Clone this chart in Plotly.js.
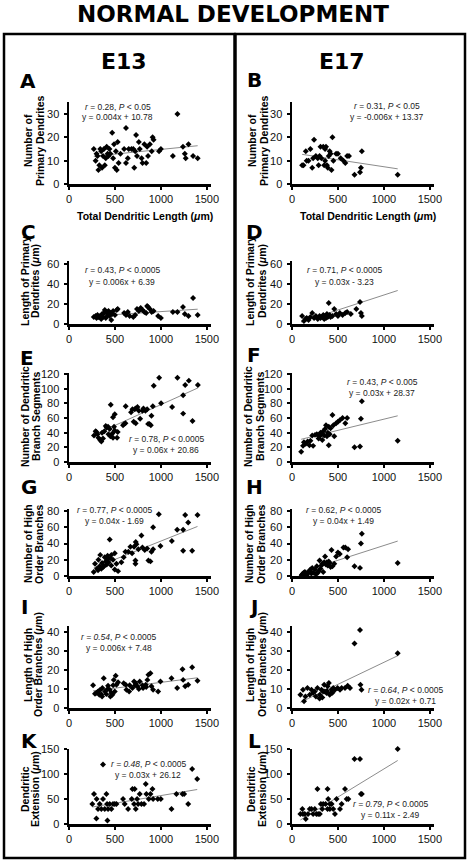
<!DOCTYPE html>
<html><head><meta charset="utf-8">
<script src="https://cdn.plot.ly/plotly-3.0.1.min.js"></script>
<style>html,body{margin:0;padding:0;background:#fff;}#chart{width:470px;height:863px;}</style>
</head><body><div id="chart"></div>
<script>
// ---------- DATA ----------
const panelLetters = ["A","B","C","D","E","F","G","H","I","J","K","L"];
const columnHeaders = ["E13","E17"];
const figureTitle = "NORMAL DEVELOPMENT";
const xTitle = "Total Dendritic Length (<i>μ</i>m)";
const yTitles = [
  ["Number of","Primary Dendrites"],
  ["Length of Primary","Dendrites (<i>μ</i>m)"],
  ["Number of Dendritic","Branch Segments"],
  ["Number of High","Order Branches"],
  ["Length of High","Order Branches (<i>μ</i>m)"],
  ["Dendritic","Extension (<i>μ</i>m)"]
];
const statLines = [
  ["<i>r</i> = 0.28, <i>P</i> &lt; 0.05","y = 0.004x + 10.78"],
  ["<i>r</i> = 0.31, <i>P</i> &lt; 0.05","y = -0.006x + 13.37"],
  ["<i>r</i> = 0.43, <i>P</i> &lt; 0.0005","y = 0.006x + 6.39"],
  ["<i>r</i> = 0.71, <i>P</i> &lt; 0.0005","y = 0.03x - 3.23"],
  ["<i>r</i> = 0.78, <i>P</i> &lt; 0.0005","y = 0.06x + 20.86"],
  ["<i>r</i> = 0.43, <i>P</i> &lt; 0.005","y = 0.03x + 28.37"],
  ["<i>r</i> = 0.77, <i>P</i> &lt; 0.0005","y = 0.04x - 1.69"],
  ["<i>r</i> = 0.62, <i>P</i> &lt; 0.0005","y = 0.04x + 1.49"],
  ["<i>r = 0.54</i>, <i>P</i> &lt; 0.0005","y = 0.006x + 7.48"],
  ["<i>r = 0.64</i>, <i>P</i> &lt; 0.0005","y = 0.02x + 0.71"],
  ["<i>r = 0.48</i>, <i>P</i> &lt; 0.0005","y = 0.03x + 26.12"],
  ["<i>r = 0.79</i>, <i>P</i> &lt; 0.0005","y = 0.11x - 2.49"]
];

// A: E13 number of primary dendrites
const aX=[270,290,300,310,320,330,340,350,360,370,380,390,400,410,420,430,440,450,470,480,490,500,510,520,530,540,560,600,620,620,640,650,680,700,710,720,730,740,760,770,790,800,820,840,850,860,880,900,910,920,980,1000,1130,1180,1240,1260,1270,1300,1350,1400];
const aY=[15,10,13,12,6,8,15,14,7,12,15,8,11,16,13,12,15,13,22,11,17,7,14,6,18,9,13,15,9,24,11,15,15,15,7,14,21,12,18,15,11,9,17,9,16,12,17,14,20,19,14,15,12,30,16,13,11,17,12,11];
const aTrendX=[270,1400], aTrendY=[11.9,16.4];
// B: E17 number of primary dendrites
const bX=[110,125,150,160,180,200,220,230,240,260,280,290,300,310,320,340,350,360,360,370,380,390,400,410,420,430,440,450,480,500,530,560,580,600,620,680,740,750,760,1150];
const bY=[8,8,14,10,10,15,7,11,19,12,11,8,12,16,11,16,8,15,10,16,8,7,12,14,13,6,20,10,13,13,11,10,9,12,12,4,5,7,14,4];
const bTrendX=[110,1150], bTrendY=[12.7,6.5];
// C: E13 length of primary dendrites
const cX=[270,290,300,310,320,340,350,360,370,380,390,400,410,420,430,440,450,460,470,480,500,520,530,600,620,640,660,700,720,740,760,780,800,820,840,850,860,880,900,920,970,1000,1130,1180,1240,1260,1300,1350,1400];
const cY=[7,8,6,9,7,8,5,10,7,11,14,6,12,9,13,8,11,4,10,13,9,14,15,11,9,12,8,7,9,15,13,16,14,12,11,18,17,15,12,13,8,6,12,12,17,10,8,26,9];
const cTrendX=[270,1400], cTrendY=[8.0,14.8];
// D: E17 length of primary dendrites
const dX=[110,130,150,160,180,200,220,240,260,280,300,310,330,340,350,360,370,380,390,400,410,420,440,460,480,500,520,550,580,600,640,700,740,750,760,1150];
const dY=[8,3,5,6,4,7,11,6,8,5,8,6,7,9,5,8,6,10,7,21,9,7,8,15,10,8,11,9,11,12,10,15,22,11,8,64];
const dTrendX=[100,1150], dTrendY=[2,33.5];
// E: E13 number of dendritic branch segments
const eX=[272,290,298,310,320,340,352,360,370,385,400,410,425,430,443,450,454,472,479,479,490,498,498,523,530,588,600,614,617,675,690,704,715,726,726,745,760,774,800,810,832,850,861,875,890,897,912,922,981,1002,1122,1180,1242,1242,1264,1304,1344,1402];
const eY=[36,42,41,38,33,30,28,40,32,42,49,47,48,38,45,35,78,39,33,61,48,43,65,33,41,50,52,53,76,68,72,55,72,53,73,75,70,59,70,73,70,72,52,52,50,63,76,104,115,80,75,115,66,91,105,111,56,105];
const eTrendX=[272,1402], eTrendY=[37,101];
// F: E17 number of dendritic branch segments
const fX=[100,120,130,150,170,190,200,220,230,250,270,290,300,310,320,330,340,350,360,370,380,390,400,400,410,420,440,450,460,480,500,520,550,580,600,680,740,750,760,1150];
const fY=[14,22,27,25,28,23,29,36,22,37,38,32,35,40,38,30,42,36,45,50,35,40,48,23,38,46,64,50,35,53,55,57,60,53,60,20,21,59,83,29];
const fTrendX=[100,1150], fTrendY=[31,63];
// G: E13 number of high order branches
const gX=[269,283,305,316,320,334,340,352,360,370,380,389,400,410,420,425,430,443,450,460,461,479,498,498,516,534,570,595,614,646,668,686,708,723,723,726,734,755,788,799,824,850,864,886,897,915,915,977,995,1119,1177,1242,1242,1264,1297,1340,1398];
const gY=[5,15,9,7,20,12,26,9,16,11,12,23,18,14,25,21,17,45,22,13,26,20,28,8,15,6,17,23,30,30,36,28,36,19,15,42,39,33,50,35,32,34,19,18,30,60,33,76,37,43,57,57,31,75,66,31,75];
const gTrendX=[269,1398], gTrendY=[10,61];
// H: E17 number of high order branches
const hX=[105,110,120,130,140,150,160,170,180,190,200,210,220,230,250,260,270,280,290,300,310,320,330,340,350,360,370,380,390,400,410,420,430,440,460,480,500,520,560,580,600,610,680,740,750,760,1150];
const hY=[1,2,3,4,5,2,1,3,5,6,8,3,10,4,8,2,12,4,6,19,9,13,15,5,17,24,14,17,13,18,16,11,32,12,15,24,29,27,35,35,23,33,12,10,40,52,16];
const hTrendX=[105,1150], hTrendY=[5,43];
// I: E13 length of high order branches
const iX=[262,283,300,316,330,334,352,360,363,378,392,407,420,425,443,450,461,472,480,487,498,508,516,534,595,617,625,654,660,690,708,720,726,745,760,770,800,806,835,840,853,864,886,897,915,970,995,1115,1177,1235,1242,1264,1297,1340,1398];
const iY=[12,7.5,8,8.7,7,9.3,7.3,6,10.5,15.7,8.7,7.3,10,11.7,9.6,6,7.9,7,12,14.8,8.7,17,12.2,13.5,13,12.2,9.6,8.7,12,10.5,14,12,13,11.4,10,14,12,10.5,12.2,11,14.8,17.5,18.3,11.4,9.6,8.7,14,15.7,10.5,20.4,14.8,11.4,12.2,21.5,14.3];
const iTrendX=[262,1398], iTrendY=[9,15.9];
// J: E17 length of high order branches
const jX=[91,120,131,146,168,193,212,230,248,277,300,303,321,339,350,358,376,387,401,423,431,449,467,496,522,540,577,606,631,680,740,745,756,1150,260,330,380,410,440];
const jY=[7,9.6,3.5,6.1,10.5,7,9.6,7.9,8.7,10.5,5,7,9.6,8.7,12.2,8.7,7.9,11.4,13.1,7.9,9.6,10.5,9.6,10.5,9.6,10.5,10.5,11.7,10.5,34,41,12.2,9.6,28.8,6,5.5,9,7,8];
const jTrendX=[91,1150], jTrendY=[3,27.5];
// K: E13 dendritic extension
const kX=[254,272,298,301,316,334,352,370,370,389,407,414,418,425,443,461,479,498,516,588,606,643,683,690,708,715,726,741,752,770,788,817,835,842,868,886,908,915,966,999,1115,1169,1235,1253,1297,1340,1395];
const kY=[40,60,11,50,30,40,30,50,119,30,60,40,7,30,40,30,40,40,40,50,40,30,50,70,40,70,30,50,40,60,40,40,80,60,50,60,70,50,50,50,30,60,60,60,40,110,90];
const kTrendX=[254,1395], kTrendY=[34,69];
// L: E17 dendritic extension
const lX=[91,113,120,139,150,175,193,212,230,248,266,277,285,303,314,329,339,365,387,387,394,412,412,431,449,467,485,522,540,577,595,613,680,740,750,760,1150];
const lY=[20,30,20,20,10,20,30,30,20,30,20,70,20,20,40,30,40,40,70,30,50,40,30,40,30,20,50,30,40,70,50,50,130,130,60,60,150];
const lTrendX=[91,1150], lTrendY=[8,127];

// ---------- LAYOUT / STYLE ----------
const W=470,H=863;
const P=x=>x/W, Q=y=>1-y/H;
const FONT="Liberation Sans, Arial, Helvetica, sans-serif";
const HFONT="DejaVu Sans, Liberation Sans, Arial, sans-serif";
const seriesX=[aX,bX,cX,dX,eX,fX,gX,hX,iX,jX,kX,lX];
const seriesY=[aY,bY,cY,dY,eY,fY,gY,hY,iY,jY,kY,lY];
const trendX=[aTrendX,bTrendX,cTrendX,dTrendX,eTrendX,fTrendX,gTrendX,hTrendX,iTrendX,jTrendX,kTrendX,lTrendX];
const trendY=[aTrendY,bTrendY,cTrendY,dTrendY,eTrendY,fTrendY,gTrendY,hTrendY,iTrendY,jTrendY,kTrendY,lTrendY];

const colL=[69,292], colR=[211,434];
const rowBottom=[184,324,462,576,708,824];
const rowTop=[102.3,260.5,373.3,509,626.3,748.5];
const yMax=[35,63.5,121,82.5,43,151];
const yDtick=[10,20,20,20,10,50];
const letterPos=[[28,81],[255,80],[28,232],[255,232],[27,358],[254,355],[29,487],[255,487],[24,607],[253,607],[29,741],[255,741]];
const yTitlePos=[[28,40,141],[252,264,141],[25,35,281],[250,262,281],[25,36,417],[248,260,417],[28,39,544],[249,261,544],[28,38,665],[250,262,665],[25,35,789],[251,262,789]];
const statPos=[[118,107,117],[387,106,117],[122,270,282],[344,270,282],[166,439,450],[382,382,393],[114,510,521],[343,510,521],[119,637,648],[405,690,701],[148,764,775],[390,804,815]];

const data=[]; const layout={width:W,height:H,margin:{l:0,r:0,t:0,b:0},paper_bgcolor:"#fff",plot_bgcolor:"rgba(0,0,0,0)",showlegend:false,annotations:[],shapes:[]};

for(let i=0;i<12;i++){
  const s=i===0?"":String(i+1);
  const col=i%2,row=Math.floor(i/2);
  data.push({type:"scatter",mode:"lines",x:trendX[i],y:trendY[i],xaxis:"x"+s,yaxis:"y"+s,line:{color:"#8c8c8c",width:1},hoverinfo:"skip"});
  data.push({type:"scatter",mode:"markers",x:seriesX[i],y:seriesY[i],xaxis:"x"+s,yaxis:"y"+s,marker:{symbol:"diamond",size:4.6,color:"#000"},cliponaxis:false});
  const axCommon={showline:true,linecolor:"#000",linewidth:2.5,ticks:"outside",ticklen:3,tickwidth:2,tickcolor:"#000",showgrid:false,zeroline:false,fixedrange:true,tickfont:{family:FONT,size:11,color:"#111"}};
  layout["xaxis"+s]=Object.assign({},axCommon,{domain:[P(colL[col]),P(colR[col])],anchor:"y"+s,range:[0,1545],tick0:0,dtick:500});
  layout["yaxis"+s]=Object.assign({},axCommon,{domain:[Q(rowBottom[row]),Q(rowTop[row])],anchor:"x"+s,range:[0,yMax[row]],tick0:0,dtick:yDtick[row],ticklabelstandoff:2});
  layout.annotations.push({xref:"paper",yref:"paper",x:P(letterPos[i][0]),y:Q(letterPos[i][1]),text:"<b>"+panelLetters[i]+"</b>",showarrow:false,xanchor:"center",yanchor:"middle",font:{family:HFONT,size:20,color:"#000"}});
  const yt=yTitles[row];
  for(let k=0;k<2;k++){
    layout.annotations.push({xref:"paper",yref:"paper",x:P(yTitlePos[i][k]),y:Q(yTitlePos[i][2]),text:"<b>"+yt[k]+"</b>",textangle:-90,showarrow:false,xanchor:"center",yanchor:"middle",font:{family:FONT,size:10.5,color:"#000"}});
  }
  for(let k=0;k<2;k++){
    layout.annotations.push({xref:"paper",yref:"paper",x:P(statPos[i][0]),y:Q(statPos[i][1+k]),text:statLines[i][k],showarrow:false,xanchor:"center",yanchor:"middle",font:{family:FONT,size:8.5,color:"#222"}});
  }
}
[[145,216],[368,216]].forEach(p=>layout.annotations.push({xref:"paper",yref:"paper",x:P(p[0]),y:Q(p[1]),text:"<b>"+xTitle+"</b>",showarrow:false,xanchor:"center",yanchor:"middle",font:{family:FONT,size:10.5,color:"#000"}}));
layout.annotations.push({xref:"paper",yref:"paper",x:P(124),y:Q(61),text:"<b>"+columnHeaders[0]+"</b>",showarrow:false,xanchor:"center",yanchor:"middle",font:{family:HFONT,size:22,color:"#000"}});
layout.annotations.push({xref:"paper",yref:"paper",x:P(342),y:Q(61),text:"<b>"+columnHeaders[1]+"</b>",showarrow:false,xanchor:"center",yanchor:"middle",font:{family:HFONT,size:22,color:"#000"}});
layout.annotations.push({xref:"paper",yref:"paper",x:P(233),y:Q(14),text:"<b>"+figureTitle+"</b>",showarrow:false,xanchor:"center",yanchor:"middle",font:{family:HFONT,size:23,color:"#000"}});
layout.shapes.push({type:"rect",xref:"paper",yref:"paper",x0:P(4),x1:P(234.5),y0:Q(858),y1:Q(34),line:{color:"#000",width:2.5},fillcolor:"rgba(0,0,0,0)"});
layout.shapes.push({type:"rect",xref:"paper",yref:"paper",x0:P(235.5),x1:P(465),y0:Q(858),y1:Q(34),line:{color:"#000",width:2.5},fillcolor:"rgba(0,0,0,0)"});

Plotly.newPlot("chart",data,layout,{displayModeBar:false,staticPlot:true});
</script></body></html>
